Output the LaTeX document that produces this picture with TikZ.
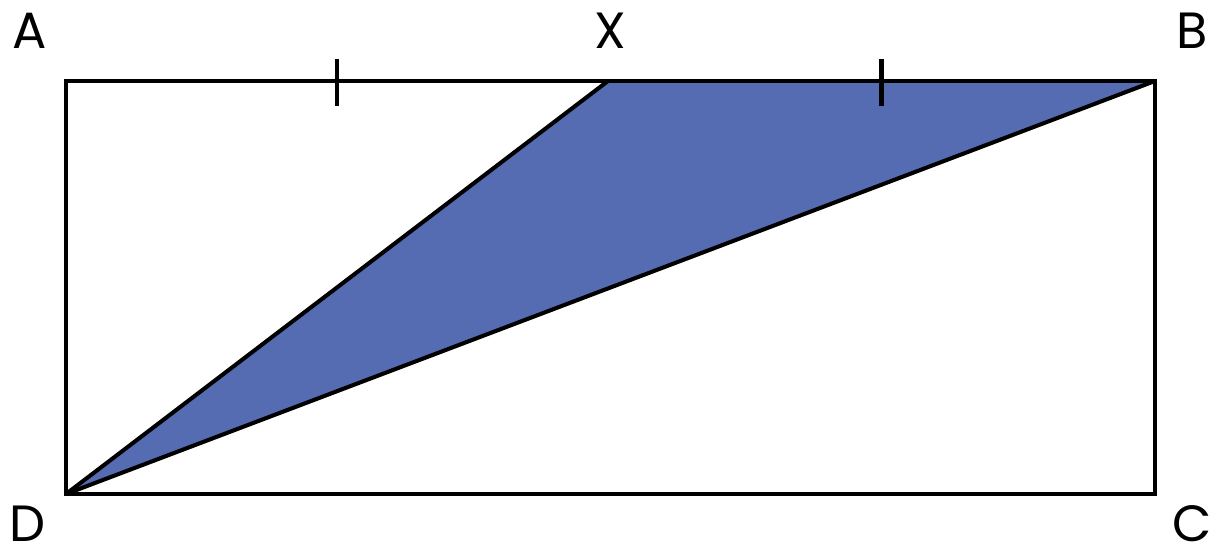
\documentclass[tikz,border=0pt]{standalone}
\usepackage{fontspec}
\setmainfont{Poppins}
\usetikzlibrary{positioning,calc}
\definecolor{triblue}{HTML}{566CB2}

\begin{document}
\begin{tikzpicture}[
      every node/.style={font=\fontsize{29}{34}\selectfont, anchor=center, inner sep=0pt},
      edge/.style={line width=2.3pt, line join=miter},
      tick/.style={line width=2.3pt}
    ]
  \useasboundingbox (0,0) rectangle (24.4,11.12);
  % --- Eckpunkte ---
  \coordinate (D) at (1.32,1.24);
  \coordinate (C) at (23.10,1.24);
  \coordinate (B) at (23.10,9.50);
  \coordinate (A) at (1.32,9.50);
  \coordinate (X) at (12.16,9.50);

  % Dreieck DXB
  \fill[triblue] (D) -- (X) -- (B) -- cycle;
  \draw[edge] (A) -- (B) -- (C) -- (D) -- cycle;
  \draw[edge] (D) -- (X);
  \draw[edge] (D) -- (B);

  % Markierungen AX = XB
  \coordinate (m1) at ($(A)!0.5!(X)$);
  \coordinate (m2) at ($(X)!0.5!(B)$);
  \foreach \m in {m1,m2} {\draw[tick] ($(\m)+(0,0.44)$) -- ($(\m)+(0,-0.5)$);}

  % Beschriftung
  \node (lA) at (0.60,10.50) {A};
  \node (lX) at (12.20,10.50) {X};
  \node (lB) at (23.84,10.50) {B};
  \node (lD) at (0.56,0.64) {D};
  \node (lC) at (23.84,0.64) {C};
\end{tikzpicture}
\end{document}
